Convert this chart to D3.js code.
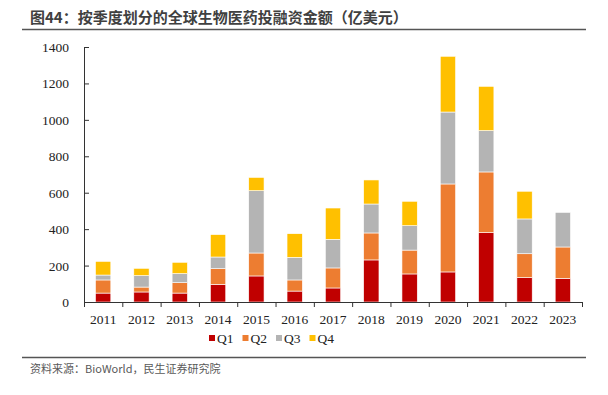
<!DOCTYPE html>
<html>
<head>
<meta charset="utf-8">
<script src="https://cdn.jsdelivr.net/npm/d3@7"></script>
<style>
  body { margin: 0; background: #fff; }
  svg { display: block; }
</style>
</head>
<body>
<script>
// chart data (亿美元)
var years = ["2011","2012","2013","2014","2015","2016","2017","2018","2019","2020","2021","2022","2023"];
var quarters = ["Q1","Q2","Q3","Q4"];
var q1 = [49, 55, 49, 97, 143, 60, 77, 231, 154, 165, 381, 134, 130];
var q2 = [72, 27, 57, 86, 126, 61, 110, 148, 131, 483, 333, 131, 172];
var q3 = [27, 63, 50, 64, 342, 124, 157, 159, 134, 395, 227, 191, 190];
var q4 = [75, 40, 62, 123, 73, 130, 172, 132, 134, 306, 243, 152, 0];
var yTicks = [0, 200, 400, 600, 800, 1000, 1200, 1400];
var colors = ["#C00000", "#ED7D31", "#B4B4B4", "#FFC000"];

window.onload = drawChart();

function drawChart() {
  var width = 608, height = 395;
  var margin = {left: 84, right: 26, top: 47, bottom: 93};

  var svg = d3.select("body").append("svg")
      .attr("width", width)
      .attr("height", height);

  //title and rules
  svg.append("text")
      .attr("x", 30).attr("y", 23)
      .attr("font-family", "'Noto Sans CJK SC', sans-serif")
      .attr("font-size", 15).attr("font-weight", "bold")
      .attr("fill", "#404040")
      .text("图44：按季度划分的全球生物医药投融资金额（亿美元）");
  svg.append("line")
      .attr("x1", 22).attr("x2", 586).attr("y1", 29.5).attr("y2", 29.5)
      .attr("stroke", "#555").attr("stroke-width", 1.5);
  svg.append("line")
      .attr("x1", 22).attr("x2", 586).attr("y1", 357.5).attr("y2", 357.5)
      .attr("stroke", "#555").attr("stroke-width", 1.5);
  svg.append("text")
      .attr("x", 30).attr("y", 373)
      .attr("font-family", "'Noto Sans CJK SC', sans-serif")
      .attr("font-size", 11).attr("fill", "#595959")
      .text("资料来源：BioWorld，民生证券研究院");

  var x = d3.scaleBand()
      .domain(years)
      .range([margin.left, width - margin.right])
      .paddingInner(0.6).paddingOuter(0.3);

  var y = d3.scaleLinear()
      .domain([0, 1400])
      .range([height - margin.bottom, margin.top]);

  var rows = years.map(function(yr, i) {
    return {year: yr, Q1: q1[i], Q2: q2[i], Q3: q3[i], Q4: q4[i]};
  });
  var stacked = d3.stack().keys(quarters)(rows);

  var g = svg.append("g");
  g.selectAll("g.layer")
      .data(stacked)
      .enter().append("g")
      .attr("class", "layer")
      .attr("fill", function(d, i) { return colors[i]; })
      .selectAll("rect")
      .data(function(d) { return d.filter(function(p) { return p[1] > p[0]; }); })
      .enter().append("rect")
      .attr("x", function(d) { return x(d.data.year); })
      .attr("width", x.bandwidth())
      .attr("y", function(d) { return y(d[1]); })
      .attr("height", function(d) { return y(d[0]) - y(d[1]); })
      .attr("stroke", "#fff").attr("stroke-width", 0.6);

  //y axis with inward ticks
  var yAxis = svg.append("g")
      .attr("transform", "translate(" + margin.left + ",0)")
      .call(d3.axisRight(y).tickValues(yTicks).tickSize(5).tickFormat(""));
  yAxis.select(".domain").attr("stroke", "#333");
  yAxis.selectAll(".tick line").attr("stroke", "#333");
  svg.selectAll("text.ylab")
      .data(yTicks)
      .enter().append("text")
      .attr("class", "ylab")
      .attr("x", 69).attr("y", function(d) { return y(d) + 5; })
      .attr("text-anchor", "end")
      .attr("font-family", "'Liberation Serif', serif")
      .attr("font-size", 13.5).attr("fill", "#222")
      .text(function(d) { return d; });

  //x axis, ticks on band boundaries
  var step = x.step();
  var bounds = d3.range(years.length + 1).map(function(i) {
    return margin.left + i * step;
  });
  svg.append("line")
      .attr("x1", margin.left).attr("x2", width - margin.right)
      .attr("y1", y(0) + 0.5).attr("y2", y(0) + 0.5)
      .attr("stroke", "#333");
  svg.selectAll("line.xtick")
      .data(bounds)
      .enter().append("line")
      .attr("class", "xtick")
      .attr("x1", function(d) { return d + 0.5; })
      .attr("x2", function(d) { return d + 0.5; })
      .attr("y1", y(0)).attr("y2", y(0) + 5)
      .attr("stroke", "#333");
  svg.selectAll("text.xlab")
      .data(years)
      .enter().append("text")
      .attr("class", "xlab")
      .attr("x", function(d) { return x(d) + x.bandwidth() / 2; })
      .attr("y", 324)
      .attr("text-anchor", "middle")
      .attr("font-family", "'Liberation Serif', serif")
      .attr("font-size", 13.5).attr("fill", "#222")
      .text(function(d) { return d; });

  //legend
  var legend = svg.selectAll("g.legend")
      .data(quarters)
      .enter().append("g")
      .attr("class", "legend")
      .attr("transform", function(d, i) { return "translate(" + (209 + i * 33.5) + ",335)"; });
  legend.append("rect")
      .attr("width", 6).attr("height", 6)
      .attr("fill", function(d, i) { return colors[i]; });
  legend.append("text")
      .attr("x", 8).attr("y", 8)
      .attr("font-family", "'Liberation Serif', serif")
      .attr("font-size", 13.5).attr("fill", "#222")
      .text(function(d) { return d; });
}
</script>
</body>
</html>
